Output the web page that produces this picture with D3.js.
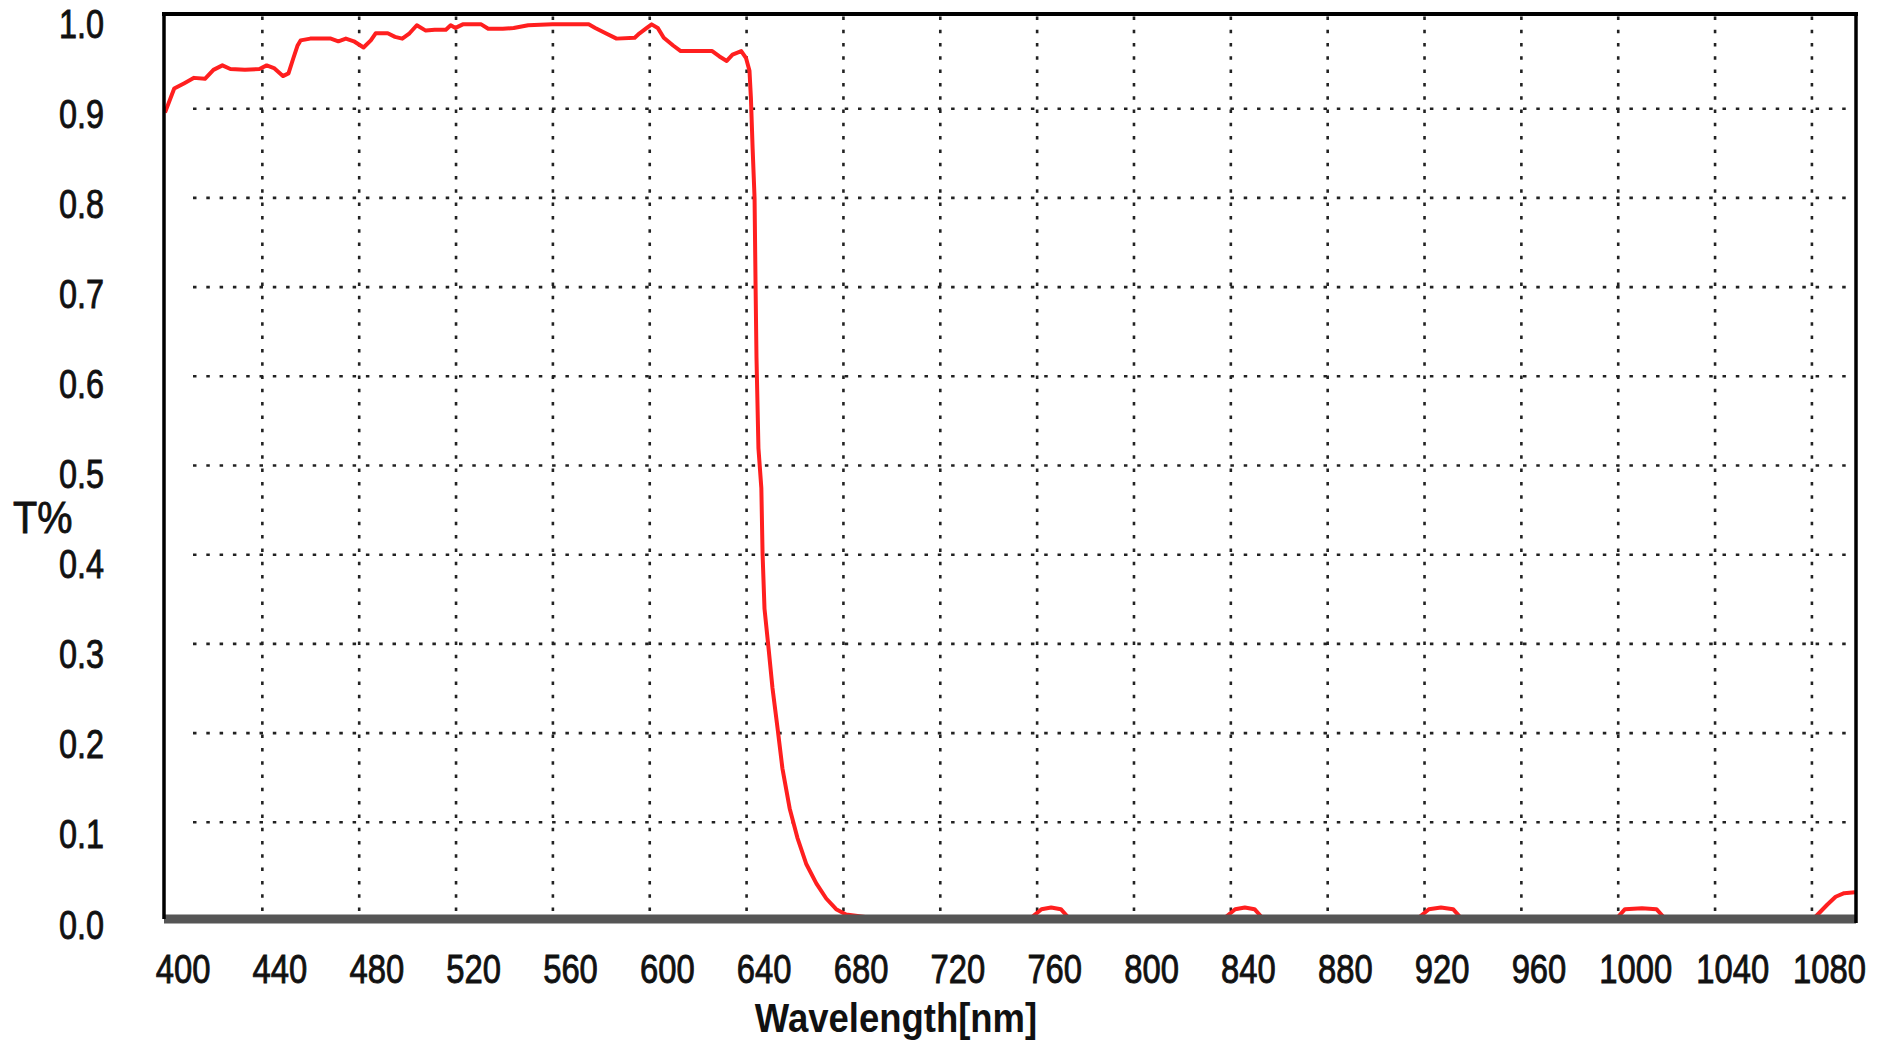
<!DOCTYPE html>
<html>
<head>
<meta charset="utf-8">
<script src="https://cdn.jsdelivr.net/npm/d3@7"></script>
<style>
  html, body { margin: 0; padding: 0; background: #fff; overflow: hidden; }
  svg { display: block; }
</style>
</head>
<body>
<svg width="1888" height="1043"></svg>
<script>
// transmission curve
const wavelength = [400, 403.8, 408, 412, 416.5, 420, 423.7, 427, 433, 439, 442, 445, 448.7, 451, 453, 454.7, 456, 460,
  468.5, 471.6, 474.7, 478, 482, 485, 487, 492, 495, 498, 501, 504, 507.7, 511.4, 516, 518, 520, 523, 530.6, 533.5,
  539.5, 544, 550, 560, 575, 577.7, 582, 586.5, 594, 596, 599, 601, 603.5, 606, 610, 613, 619, 626, 629, 632, 634.4,
  638, 640, 641.4, 642, 642.7, 643.5, 643.9, 644.3, 645.1, 646.3, 646.8, 647.6, 649.3, 650.9, 653, 655, 658, 661.2,
  664.8, 669, 673.1, 677.2, 681.3, 690, 758, 762, 766, 770, 773, 838, 842, 846, 850, 853, 918, 922, 927, 932, 935,
  1000, 1003, 1010, 1016, 1019, 1081.5, 1086.5, 1090, 1093.5, 1098];
const transmission = [0.895, 0.922, 0.928, 0.934, 0.933, 0.943, 0.948, 0.944, 0.943, 0.944, 0.948, 0.945, 0.936, 0.939,
  0.956, 0.970, 0.976, 0.978, 0.978, 0.975, 0.978, 0.975, 0.968, 0.976, 0.984, 0.984, 0.980, 0.978, 0.984, 0.993,
  0.987, 0.988, 0.988, 0.993, 0.990, 0.994, 0.994, 0.989, 0.989, 0.990, 0.993, 0.994, 0.994, 0.990, 0.984, 0.978,
  0.979, 0.984, 0.990, 0.994, 0.990, 0.979, 0.970, 0.964, 0.964, 0.964, 0.958, 0.953, 0.960, 0.964, 0.956, 0.942,
  0.911, 0.855, 0.799, 0.704, 0.620, 0.519, 0.474, 0.401, 0.339, 0.294, 0.250, 0.205, 0.160, 0.115, 0.082, 0.053,
  0.031, 0.014, 0.002, -0.004, -0.007, -0.007, 0.002, 0.004, 0.002, -0.007, -0.007, 0.002, 0.004, 0.002, -0.007, -0.007,
  0.002, 0.004, 0.002, -0.007, -0.007, 0.002, 0.003, 0.002, -0.007, -0.007, 0.007, 0.016, 0.020, 0.021];

const xTickValues = [400, 440, 480, 520, 560, 600, 640, 680, 720, 760, 800, 840, 880, 920, 960, 1000, 1040, 1080];
const xTickLabels = ["400", "440", "480", "520", "560", "600", "640", "680", "720", "760", "800", "840", "880", "920", "960", "1000", "1040", "1080"];
const yTickValues = [0, 0.1, 0.2, 0.3, 0.4, 0.5, 0.6, 0.7, 0.8, 0.9, 1.0];
const yTickLabels = ["0.0", "0.1", "0.2", "0.3", "0.4", "0.5", "0.6", "0.7", "0.8", "0.9", "1.0"];

const svg = d3.select("svg");
const fontFamily = "'Liberation Sans', Arial, sans-serif";

let x = d3.scaleLinear().domain([400, 1098]).range([165, 1855]);
let y = d3.scaleLinear().domain([0, 1]).range([911, 19]);
// the printed labels drift slightly against the grid
let yLabel = d3.scaleLinear().domain([0, 1]).range([938, 37]);

const frameTop = 14, frameBottom = 919, frameLeft = 164, frameRight = 1856;

// vertical grid
let vGrid = d3.axisBottom(x).tickValues(xTickValues.slice(1)).tickSize(-(911 - frameTop)).tickFormat("");
svg.append("g").attr("transform", "translate(0,911)").call(vGrid)
  .call(g => g.select(".domain").remove())
  .selectAll("line").attr("stroke", "#222").attr("stroke-width", 2.6).attr("stroke-dasharray", "3.5,9.8");

// horizontal grid
let hGrid = d3.axisLeft(y).tickValues(yTickValues.slice(1, 10)).tickSize(-(1848 - 193)).tickFormat("");
svg.append("g").attr("transform", "translate(193,0)").call(hGrid)
  .call(g => g.select(".domain").remove())
  .selectAll("line").attr("stroke", "#222").attr("stroke-width", 2.6).attr("stroke-dasharray", "3.5,9.8");

// curve
svg.append("clipPath").attr("id", "plotClip")
  .append("rect").attr("x", frameLeft).attr("y", frameTop)
  .attr("width", frameRight - frameLeft).attr("height", frameBottom - frameTop);

let line = d3.line()
  .x((d, i) => x(wavelength[i]))
  .y((d, i) => y(transmission[i]));

svg.append("path")
  .datum(transmission)
  .attr("clip-path", "url(#plotClip)")
  .attr("d", line)
  .attr("fill", "none")
  .attr("stroke", "#ff1f1f")
  .attr("stroke-width", 4)
  .attr("stroke-linejoin", "round");

// frame
svg.append("line").attr("x1", frameLeft).attr("x2", frameRight).attr("y1", frameBottom).attr("y2", frameBottom)
  .attr("stroke", "#555").attr("stroke-width", 9);
svg.append("line").attr("x1", frameLeft - 2).attr("x2", frameRight + 2).attr("y1", frameTop).attr("y2", frameTop)
  .attr("stroke", "#000").attr("stroke-width", 4);
svg.append("line").attr("x1", frameLeft).attr("x2", frameLeft).attr("y1", frameTop).attr("y2", frameBottom)
  .attr("stroke", "#000").attr("stroke-width", 3.5);
svg.append("line").attr("x1", frameRight).attr("x2", frameRight).attr("y1", frameTop).attr("y2", frameBottom + 4)
  .attr("stroke", "#000").attr("stroke-width", 3.5);

// x tick labels
let bottomAxis = d3.axisBottom(x).tickValues(xTickValues).tickSize(0)
  .tickFormat((d, i) => xTickLabels[i]);
svg.append("g").attr("transform", "translate(0,983)").call(bottomAxis)
  .call(g => g.select(".domain").remove())
  .attr("font-family", fontFamily).attr("font-size", 41)
  .selectAll("text")
  .attr("fill", "#111").attr("stroke", "#111").attr("stroke-width", 0.9)
  .attr("y", 0).attr("dy", 0).attr("x", 22)
  .attr("transform", "scale(0.8,1)");

// y tick labels
let leftAxis = d3.axisLeft(yLabel).tickValues(yTickValues).tickSize(0)
  .tickFormat((d, i) => yTickLabels[i]);
svg.append("g").attr("transform", "translate(104,0)").call(leftAxis)
  .call(g => g.select(".domain").remove())
  .attr("font-family", fontFamily).attr("font-size", 41)
  .selectAll("text")
  .attr("fill", "#111").attr("stroke", "#111").attr("stroke-width", 0.9)
  .attr("x", 0).attr("dy", 0)
  .attr("transform", "scale(0.79,1)");

// axis titles
svg.append("text")
  .attr("transform", "translate(13,533) scale(0.88,1)")
  .attr("font-family", fontFamily).attr("font-size", 45).attr("fill", "#111")
  .attr("stroke", "#111").attr("stroke-width", 0.9)
  .text("T%");

svg.append("text")
  .attr("transform", "translate(896,1032) scale(0.89,1)")
  .attr("text-anchor", "middle")
  .attr("font-family", fontFamily).attr("font-size", 41).attr("font-weight", "bold").attr("fill", "#111")
  .text("Wavelength[nm]");
</script>
</body>
</html>
